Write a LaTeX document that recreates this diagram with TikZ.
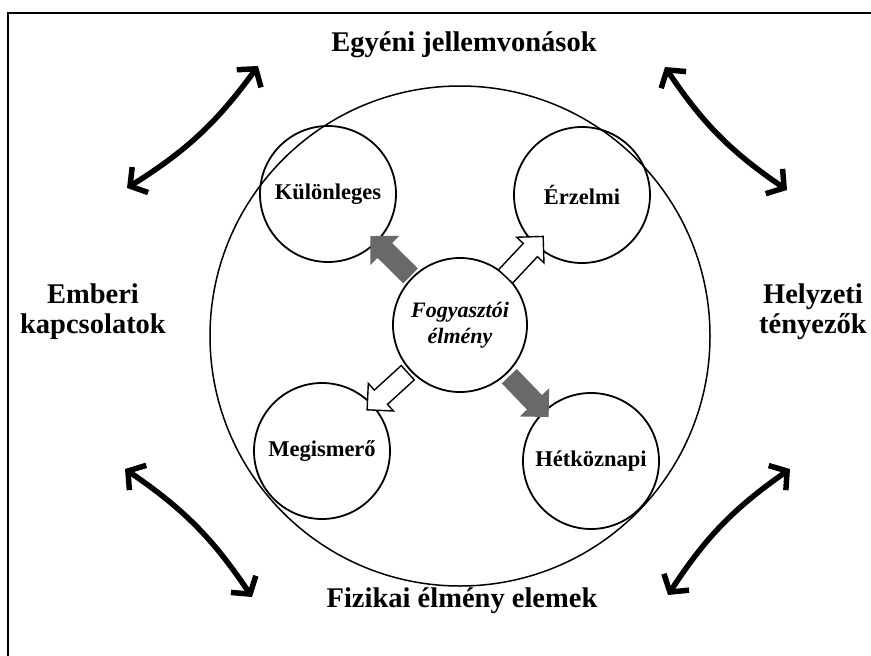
\documentclass[tikz,border=0pt]{standalone}
\usepackage{fontspec}
\setmainfont{Liberation Serif}
\usetikzlibrary{arrows.meta,shapes.arrows,calc}
\definecolor{blockgray}{RGB}{105,105,105}

\begin{document}
\begin{tikzpicture}[x=1pt,y=-1pt,
    outer/.style={font=\fontsize{28.5}{30}\selectfont\bfseries, align=center},
    kind/.style={circle, draw, line width=1.8pt, minimum size=136pt, inner sep=0pt,
      font=\fontsize{22.5}{24}\selectfont\bfseries},
    swing/.style={line width=5.5pt,
      {Straight Barb[length=12pt,width=30pt]}-{Straight Barb[length=12pt,width=30pt]}},
    block/.style={single arrow, line width=1.4pt, minimum height=55pt,
      inner xsep=0pt, inner ysep=9pt, single arrow head extend=9pt},
    grayblock/.style={block, draw=blockgray, fill=blockgray},
    whiteblock/.style={block, draw=black, fill=white}
  ]
    \useasboundingbox (0,0) rectangle (871,656);

    % Frame (only top and left are inside the picture)
    \draw[line width=1.2pt] (8,656) -- (8,13) -- (871,13);

    % Outer factors
    \node[outer] (egyeni) at (464,45) {Egyéni jellemvonások};
    \node[outer] (emberi) at (93,312) {Emberi\\kapcsolatok};
    \node[outer] (helyzeti) at (813,312) {Helyzeti\\tényezők};
    \node[outer] (fizikai) at (462,601) {Fizikai élmény elemek};

    % Big circle
    \node[circle, draw, line width=1.5pt, minimum size=500pt] (whole) at (460,336) {};

    % Kinds of experience
    \node[kind] (kul) at (328,194) {Különleges};
    \node[kind] (erz) at (582,195) {Érzelmi};
    \node[kind] (meg) at (322,451) {Megismerő};
    \node[kind] (het) at (591,461) {Hétköznapi};

    % Centre
    \node[kind, minimum size=134pt, align=center,
      font=\fontsize{22}{26}\selectfont\bfseries\itshape] (fe) at (460,325) {Fogyasztói\\élmény};

    % Block arrows from the centre
    \foreach \target/\tone in {kul/gray, erz/white, meg/white, het/gray}
      \path let \p1=($(\target)-(fe)$), \n1={atan2(\y1,\x1)} in
        node[\tone block, rotate=\n1] (arr-\target) at ($(fe)!0.5!(\target)$) {};

    % Double arrows between the outer factors
    \coordinate (tl1) at (127,188);
    \coordinate (tl2) at (258,66);
    \coordinate (tr1) at (665,67);
    \coordinate (tr2) at (787,190);
    \coordinate (bl1) at (252,597);
    \coordinate (bl2) at (125,469);
    \coordinate (br1) at (790,469);
    \coordinate (br2) at (668,595);
    \draw[swing] (tl1) to[bend right=11] (tl2);
    \draw[swing] (tr1) to[bend right=11] (tr2);
    \draw[swing] (bl1) to[bend right=11] (bl2);
    \draw[swing] (br1) to[bend right=11] (br2);
\end{tikzpicture}
\end{document}
